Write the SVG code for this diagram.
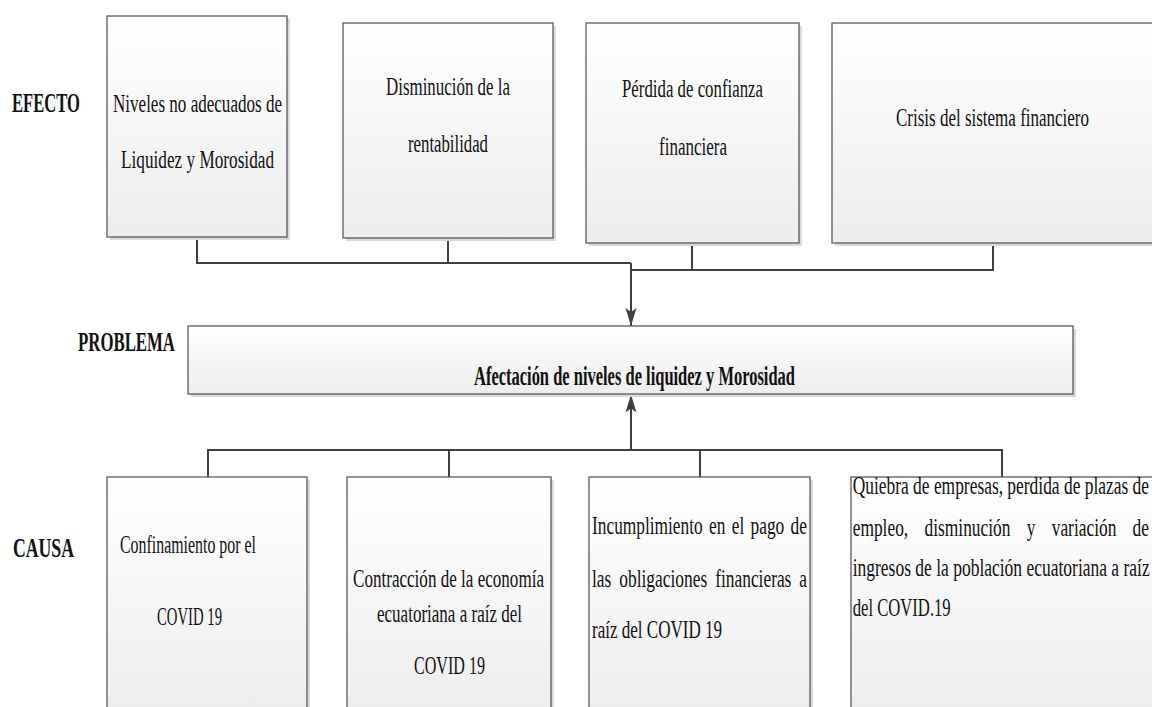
<svg xmlns="http://www.w3.org/2000/svg" width="1152" height="707" viewBox="0 0 1152 707" font-family="Liberation Serif, Tinos, Times New Roman, serif">
<defs>
<linearGradient id="g" x1="0" y1="0" x2="0" y2="1">
<stop offset="0" stop-color="#ffffff"/>
<stop offset="1" stop-color="#ededed"/>
</linearGradient>
<marker id="ah" markerUnits="userSpaceOnUse" markerWidth="20" markerHeight="12" refX="18" refY="6" orient="auto">
<path d="M0,0.5 L18,6 L0,11.5 L4,6 Z" fill="#404040"/>
</marker>
<style>
.box{fill:url(#g);stroke:#5a5a5a;stroke-width:1.3}
.sh{fill:#dadada}
.t{font-size:25.5px;fill:#111}
.b{font-weight:bold;font-size:27px}
.c{fill:none;stroke:#404040;stroke-width:2}
</style>
</defs>
<rect width="1152" height="707" fill="#ffffff"/>

<g id="labels">
<text class="t b" x="12" y="112" textLength="68" lengthAdjust="spacingAndGlyphs">EFECTO</text>
<text class="t b" x="78" y="351" textLength="97" lengthAdjust="spacingAndGlyphs">PROBLEMA</text>
<text class="t b" x="13" y="557" textLength="61" lengthAdjust="spacingAndGlyphs">CAUSA</text>
</g>

<g id="connectors">
<path class="c" d="M197,238 V263 H631"/>
<path class="c" d="M448,238 V263"/>
<path class="c" d="M692,243 V270"/>
<path class="c" d="M631,270 H993 V243"/>
<path class="c" d="M631,263 V326" marker-end="url(#ah)"/>
<path class="c" d="M208,477 V450 H1002 V477"/>
<path class="c" d="M449,450 V477"/>
<path class="c" d="M700,450 V477"/>
<path class="c" d="M631,450 V394.5" marker-end="url(#ah)"/>
</g>

<g id="efecto1">
<rect class="sh" x="110" y="19" width="180" height="221"/>
<rect class="box" x="107" y="16" width="180" height="221"/>
<text class="t" x="113" y="112" textLength="169" lengthAdjust="spacingAndGlyphs">Niveles no adecuados de</text>
<text class="t" x="121" y="168" textLength="153" lengthAdjust="spacingAndGlyphs">Liquidez y Morosidad</text>
</g>

<g id="efecto2">
<rect class="sh" x="346" y="26" width="210" height="215"/>
<rect class="box" x="343" y="23" width="210" height="215"/>
<text class="t" x="386" y="95" textLength="124" lengthAdjust="spacingAndGlyphs">Disminución de la</text>
<text class="t" x="408" y="152" textLength="80" lengthAdjust="spacingAndGlyphs">rentabilidad</text>
</g>

<g id="efecto3">
<rect class="sh" x="589" y="26" width="213" height="220"/>
<rect class="box" x="586" y="23" width="213" height="220"/>
<text class="t" x="622" y="97" textLength="141" lengthAdjust="spacingAndGlyphs">Pérdida de confianza</text>
<text class="t" x="659" y="155" textLength="68" lengthAdjust="spacingAndGlyphs">financiera</text>
</g>

<g id="efecto4">
<rect class="sh" x="835" y="26" width="322" height="220"/>
<rect class="box" x="832" y="23" width="322" height="220"/>
<text class="t" x="896" y="126" textLength="193" lengthAdjust="spacingAndGlyphs">Crisis del sistema financiero</text>
</g>

<g id="problema">
<rect class="sh" x="191" y="329" width="885" height="68"/>
<rect class="box" x="188" y="326" width="885" height="68"/>
<text class="t b" x="474" y="385" textLength="321" lengthAdjust="spacingAndGlyphs">Afectación de niveles de liquidez y Morosidad</text>
</g>

<g id="causa1">
<rect class="sh" x="110" y="480" width="200" height="240"/>
<rect class="box" x="107" y="477" width="200" height="240"/>
<text class="t" x="120" y="553" textLength="136" lengthAdjust="spacingAndGlyphs">Confinamiento por el</text>
<text class="t" x="157" y="625" textLength="65" lengthAdjust="spacingAndGlyphs">COVID 19</text>
</g>

<g id="causa2">
<rect class="sh" x="350" y="480" width="204" height="240"/>
<rect class="box" x="347" y="477" width="204" height="240"/>
<text class="t" x="353" y="587" textLength="191" lengthAdjust="spacingAndGlyphs">Contracción de la economía</text>
<text class="t" x="377" y="622" textLength="145" lengthAdjust="spacingAndGlyphs">ecuatoriana a raíz del</text>
<text class="t" x="414" y="674" textLength="71" lengthAdjust="spacingAndGlyphs">COVID 19</text>
</g>

<g id="causa3">
<rect class="sh" x="592" y="480" width="221" height="240"/>
<rect class="box" x="589" y="477" width="221" height="240"/>
<text class="t" x="592" y="534" textLength="110.7" lengthAdjust="spacingAndGlyphs">Incumplimiento</text>
<text class="t" x="709" y="534" textLength="16.4" lengthAdjust="spacingAndGlyphs">en</text>
<text class="t" x="731.7" y="534" textLength="12.5" lengthAdjust="spacingAndGlyphs">el</text>
<text class="t" x="750.5" y="534" textLength="33.8" lengthAdjust="spacingAndGlyphs">pago</text>
<text class="t" x="790.6" y="534" textLength="16.4" lengthAdjust="spacingAndGlyphs">de</text>
<text class="t" x="592" y="587" textLength="19.3" lengthAdjust="spacingAndGlyphs">las</text>
<text class="t" x="619.3" y="587" textLength="87.9" lengthAdjust="spacingAndGlyphs">obligaciones</text>
<text class="t" x="715.2" y="587" textLength="76.2" lengthAdjust="spacingAndGlyphs">financieras</text>
<text class="t" x="799.3" y="587" textLength="7.7" lengthAdjust="spacingAndGlyphs">a</text>
<text class="t" x="592" y="638" textLength="130" lengthAdjust="spacingAndGlyphs">raíz del COVID 19</text>
</g>

<g id="causa4">
<rect class="sh" x="854" y="480" width="302" height="240"/>
<rect class="box" x="851" y="477" width="302" height="240"/>
<text class="t" x="852.7" y="494" textLength="296.3" lengthAdjust="spacingAndGlyphs">Quiebra de empresas, perdida de plazas de</text>
<text class="t" x="852.7" y="536" textLength="55.5" lengthAdjust="spacingAndGlyphs">empleo,</text>
<text class="t" x="924.5" y="536" textLength="86" lengthAdjust="spacingAndGlyphs">disminución</text>
<text class="t" x="1026.7" y="536" textLength="8.7" lengthAdjust="spacingAndGlyphs">y</text>
<text class="t" x="1051.7" y="536" textLength="64.7" lengthAdjust="spacingAndGlyphs">variación</text>
<text class="t" x="1132.6" y="536" textLength="16.4" lengthAdjust="spacingAndGlyphs">de</text>
<text class="t" x="852.7" y="576" textLength="297" lengthAdjust="spacingAndGlyphs">ingresos de la población ecuatoriana a raíz</text>
<text class="t" x="852.7" y="616" textLength="98" lengthAdjust="spacingAndGlyphs">del COVID.19</text>
</g>
</svg>
